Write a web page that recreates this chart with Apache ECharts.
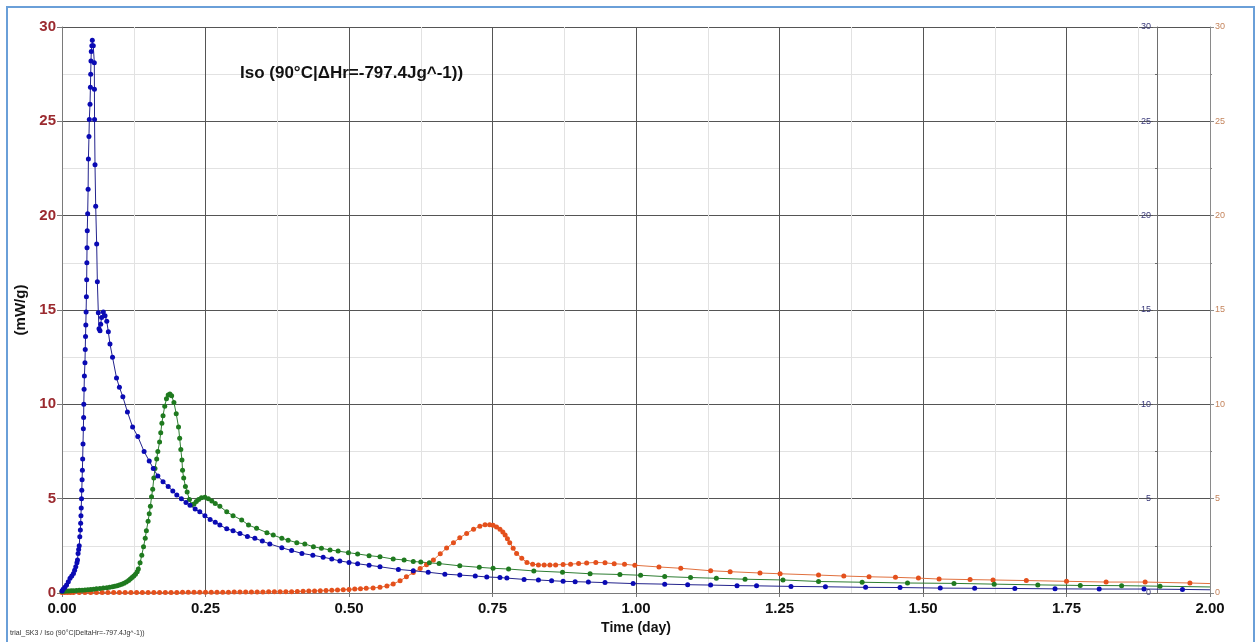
<!DOCTYPE html>
<html>
<head>
<meta charset="utf-8">
<script src="https://cdn.jsdelivr.net/npm/echarts@6/dist/echarts.min.js"></script>
<style>
  html, body { margin: 0; padding: 0; background: #ffffff; }
  #chart { width: 1257px; height: 642px; }
</style>
</head>
<body>
<div id="chart"></div>
<script>
// Heat flow (mW/g) versus time (day) for three isothermal runs, each as [day, mW/g]
const blueRun = [
  [0,0.1],[0.002,0.2],[0.005,0.3],[0.008,0.42],[0.011,0.6],[0.014,0.78],[0.017,0.9],[0.020,1.04],
  [0.022,1.2],[0.024,1.39],[0.026,1.6],[0.027,1.75],[0.028,2.1],[0.029,2.3],[0.030,2.5],[0.031,2.98],
  [0.032,3.34],[0.0325,3.7],[0.033,4.1],[0.0335,4.5],[0.034,5.0],[0.0345,5.45],[0.035,6.0],[0.0355,6.5],
  [0.036,7.1],[0.0366,7.9],[0.0372,8.7],[0.0377,9.3],[0.038,10.0],[0.0385,10.8],[0.039,11.5],[0.040,12.2],
  [0.0405,12.9],[0.041,13.6],[0.0415,14.2],[0.042,14.9],[0.0425,15.7],[0.043,16.6],[0.0433,17.5],[0.0436,18.3],
  [0.044,19.2],[0.0447,20.1],[0.0455,21.4],[0.046,23.0],[0.047,24.2],[0.0476,25.1],[0.0488,25.9],[0.0495,26.8],
  [0.050,27.5],[0.0505,28.2],[0.051,28.7],[0.052,29.0],[0.0528,29.3],[0.0545,29.0],[0.0563,28.1],[0.0565,26.7],
  [0.0567,25.1],[0.0575,22.7],[0.0587,20.5],[0.0604,18.5],[0.0616,16.5],[0.0633,14.85],[0.0645,14.0],[0.0662,13.9],
  [0.0674,14.25],[0.069,14.6],[0.072,14.9],[0.075,14.7],[0.078,14.4],[0.0807,13.85],[0.0836,13.2],[0.088,12.5],
  [0.095,11.4],[0.100,10.9],[0.106,10.4],[0.114,9.6],[0.123,8.8],[0.132,8.3],[0.143,7.5],[0.152,7.0],
  [0.159,6.6],[0.167,6.2],[0.176,5.9],[0.185,5.65],[0.193,5.4],[0.200,5.2],[0.208,5.0],[0.216,4.8],
  [0.223,4.65],[0.232,4.45],[0.240,4.3],[0.249,4.1],[0.258,3.9],[0.267,3.75],[0.275,3.6],[0.287,3.4],
  [0.298,3.3],[0.31,3.15],[0.323,3.0],[0.336,2.9],[0.349,2.75],[0.362,2.6],[0.383,2.4],[0.40,2.25],
  [0.418,2.1],[0.437,2.0],[0.455,1.9],[0.47,1.8],[0.484,1.7],[0.50,1.62],[0.515,1.55],[0.535,1.47],
  [0.554,1.39],[0.586,1.25],[0.612,1.18],[0.638,1.1],[0.667,1.0],[0.693,0.95],[0.72,0.9],[0.74,0.85],
  [0.763,0.82],[0.775,0.79],[0.805,0.72],[0.83,0.69],[0.853,0.65],[0.873,0.62],[0.894,0.6],[0.917,0.58],
  [0.946,0.55],[0.995,0.5],[1.05,0.47],[1.09,0.44],[1.13,0.42],[1.176,0.39],[1.21,0.38],[1.27,0.35],
  [1.33,0.33],[1.40,0.3],[1.46,0.29],[1.53,0.26],[1.59,0.25],[1.66,0.24],[1.73,0.22],[1.807,0.21],
  [1.885,0.21],[1.952,0.19],[2.0,0.17]
];

const greenRun = [
  [0,0.08],[0.004,0.09],[0.008,0.1],[0.012,0.11],[0.016,0.12],[0.02,0.12],[0.025,0.13],[0.03,0.14],
  [0.035,0.15],[0.04,0.16],[0.045,0.17],[0.05,0.19],[0.055,0.2],[0.06,0.22],[0.066,0.24],[0.072,0.26],
  [0.078,0.28],[0.083,0.3],[0.088,0.33],[0.092,0.36],[0.096,0.39],[0.1,0.43],[0.104,0.47],[0.108,0.52],
  [0.112,0.58],[0.116,0.66],[0.119,0.74],[0.122,0.82],[0.125,0.9],[0.128,1.0],[0.131,1.13],[0.133,1.27],
  [0.136,1.6],[0.139,2.0],[0.142,2.45],[0.145,2.9],[0.147,3.3],[0.150,3.8],[0.152,4.2],[0.154,4.6],
  [0.156,5.1],[0.158,5.5],[0.160,6.1],[0.162,6.6],[0.165,7.1],[0.167,7.5],[0.170,8.0],[0.172,8.5],
  [0.174,9.0],[0.176,9.4],[0.179,9.9],[0.182,10.3],[0.185,10.5],[0.188,10.55],[0.191,10.45],[0.195,10.1],
  [0.199,9.5],[0.203,8.8],[0.205,8.2],[0.207,7.6],[0.209,7.05],[0.210,6.5],[0.212,6.1],[0.215,5.65],
  [0.218,5.35],[0.222,4.95],[0.226,4.68],[0.230,4.72],[0.234,4.85],[0.238,4.95],[0.243,5.05],[0.249,5.07],
  [0.255,5.0],[0.261,4.88],[0.267,4.75],[0.275,4.6],[0.287,4.3],[0.298,4.1],[0.313,3.87],[0.325,3.6],
  [0.339,3.43],[0.357,3.2],[0.368,3.07],[0.383,2.9],[0.394,2.8],[0.409,2.67],[0.423,2.6],[0.438,2.45],
  [0.452,2.37],[0.467,2.28],[0.481,2.22],[0.499,2.14],[0.515,2.07],[0.535,1.98],[0.554,1.92],[0.577,1.8],
  [0.596,1.75],[0.612,1.67],[0.625,1.64],[0.64,1.6],[0.657,1.56],[0.693,1.44],[0.727,1.36],[0.751,1.31],
  [0.778,1.27],[0.822,1.17],[0.872,1.1],[0.92,1.02],[0.972,0.98],[1.008,0.94],[1.05,0.87],[1.095,0.82],
  [1.14,0.78],[1.19,0.73],[1.256,0.69],[1.318,0.61],[1.394,0.57],[1.473,0.53],[1.554,0.51],[1.624,0.47],
  [1.70,0.43],[1.774,0.4],[1.846,0.39],[1.913,0.36],[2.0,0.32]
];

const orangeRun = [
  [0,0.02],[0.005,0.02],[0.01,0.02],[0.015,0.03],[0.02,0.03],[0.03,0.03],[0.04,0.03],[0.05,0.03],
  [0.06,0.03],[0.07,0.03],[0.08,0.03],[0.09,0.03],[0.10,0.03],[0.11,0.03],[0.12,0.03],[0.13,0.03],
  [0.14,0.03],[0.15,0.03],[0.16,0.03],[0.17,0.03],[0.18,0.03],[0.19,0.03],[0.20,0.03],[0.21,0.04],
  [0.22,0.04],[0.23,0.04],[0.24,0.04],[0.25,0.04],[0.26,0.04],[0.27,0.04],[0.28,0.04],[0.29,0.04],
  [0.30,0.05],[0.31,0.05],[0.32,0.05],[0.33,0.05],[0.34,0.05],[0.35,0.05],[0.36,0.06],[0.37,0.06],
  [0.38,0.06],[0.39,0.07],[0.40,0.07],[0.41,0.08],[0.42,0.09],[0.43,0.10],[0.44,0.11],[0.45,0.12],
  [0.46,0.13],[0.47,0.14],[0.48,0.16],[0.49,0.17],[0.50,0.19],[0.51,0.21],[0.52,0.23],[0.53,0.25],
  [0.542,0.27],[0.554,0.30],[0.566,0.37],[0.577,0.48],[0.589,0.65],[0.600,0.86],[0.612,1.08],[0.624,1.30],
  [0.635,1.50],[0.647,1.75],[0.659,2.08],[0.670,2.38],[0.682,2.67],[0.693,2.93],[0.705,3.16],[0.717,3.38],
  [0.728,3.54],[0.737,3.62],[0.745,3.62],[0.751,3.59],[0.757,3.5],[0.763,3.38],[0.768,3.23],[0.772,3.07],
  [0.776,2.88],[0.780,2.67],[0.786,2.37],[0.792,2.1],[0.801,1.84],[0.81,1.62],[0.82,1.53],[0.83,1.49],
  [0.84,1.48],[0.85,1.48],[0.86,1.49],[0.873,1.51],[0.886,1.53],[0.90,1.56],[0.914,1.59],[0.93,1.62],
  [0.946,1.60],[0.962,1.55],[0.98,1.52],[0.998,1.47],[1.04,1.38],[1.078,1.31],[1.13,1.18],[1.164,1.13],
  [1.216,1.06],[1.251,1.02],[1.318,0.95],[1.362,0.90],[1.406,0.86],[1.452,0.83],[1.492,0.79],[1.528,0.74],
  [1.582,0.71],[1.622,0.69],[1.68,0.66],[1.75,0.62],[1.819,0.58],[1.887,0.58],[1.965,0.53],[2.0,0.5]
];

const plotTitle = 'Iso (90°C|ΔHr=-797.4Jg^-1))';
const footNote = 'trial_SK3 / Iso (90°C|DeltaHr=-797.4Jg^-1))';
const xName = 'Time (day)';
const yName = '(mW/g)';

const FONT = '"Liberation Sans", Arial, sans-serif';

// the trace runs on to the right edge; its closing sample carries no marker
function withOpenEnd(points) {
  return points.map((p, i) => i === points.length - 1 && p[0] >= 2
    ? { value: p, symbolSize: 0 } : p);
}

function runSeries(name, points, markerColor, lineColor) {
  return {
    name: name,
    type: 'line',
    xAxisIndex: 0,
    yAxisIndex: 0,
    data: withOpenEnd(points),
    symbol: 'circle',
    symbolSize: 5,
    showSymbol: true,
    itemStyle: { color: markerColor },
    lineStyle: { color: lineColor, width: 1 },
    z: 3
  };
}

const chart = echarts.init(document.getElementById('chart'), null, { renderer: 'canvas' });

chart.setOption({
  animation: false,
  backgroundColor: '#ffffff',
  grid: { left: 62, right: 47, top: 27, bottom: 49, containLabel: false },
  graphic: [
    {
      type: 'rect',
      shape: { x: 7, y: 7, width: 1247, height: 660 },
      style: { fill: null, stroke: '#6a9fd8', lineWidth: 2 },
      silent: true,
      z: 0
    },
    {
      type: 'text',
      left: 240,
      top: 65,
      style: { text: plotTitle, font: 'bold 17px ' + FONT, fill: '#111111' },
      z: 10
    },
    {
      type: 'text',
      left: 10,
      top: 630,
      style: { text: footNote, font: '7px ' + FONT, fill: '#333333' },
      z: 10
    }
  ],
  xAxis: {
    type: 'value',
    min: 0,
    max: 2,
    interval: 0.25,
    name: xName,
    nameLocation: 'middle',
    nameGap: 28,
    nameTextStyle: { fontFamily: FONT, fontWeight: 'bold', fontSize: 14, color: '#111111' },
    axisLine: { show: true, onZero: false, lineStyle: { color: '#7a7a7a', width: 1 } },
    axisTick: { show: true, length: 4, lineStyle: { color: '#7a7a7a' } },
    axisLabel: {
      fontFamily: FONT, fontWeight: 'bold', fontSize: 15, color: '#111111', margin: 8,
      formatter: v => v.toFixed(2)
    },
    splitLine: { show: true, lineStyle: { color: '#555555', width: 1 } },
    minorTick: { show: false, splitNumber: 2 },
    minorSplitLine: { show: true, lineStyle: { color: '#e2e2e2', width: 1 } }
  },
  yAxis: [
    {
      type: 'value',
      position: 'left',
      min: 0,
      max: 30,
      interval: 5,
      name: yName,
      nameLocation: 'middle',
      nameGap: 29,
      nameRotate: 90,
      nameTextStyle: { fontFamily: FONT, fontWeight: 'bold', fontSize: 15, color: '#111111' },
      axisLine: { show: true, lineStyle: { color: '#7a7a7a', width: 1 } },
      axisTick: { show: true, length: 5, lineStyle: { color: '#7a7a7a' } },
      axisLabel: { fontFamily: FONT, fontWeight: 'bold', fontSize: 15, color: '#9b2a2f', margin: 6 },
      splitLine: { show: true, lineStyle: { color: '#555555', width: 1 } },
      minorTick: { show: false, splitNumber: 2 },
      minorSplitLine: { show: true, lineStyle: { color: '#e2e2e2', width: 1 } }
    },
    {
      type: 'value',
      position: 'right',
      offset: -53,
      min: 0,
      max: 30,
      interval: 5,
      axisLine: { show: true, lineStyle: { color: '#6e6e6e', width: 1 } },
      axisTick: { show: true, inside: true, length: 4, lineStyle: { color: '#6e6e6e' } },
      minorTick: { show: true, splitNumber: 2, length: 2, lineStyle: { color: '#6e6e6e' } },
      axisLabel: { inside: true, fontFamily: FONT, fontSize: 9, color: '#3a3a7a', margin: 6 },
      splitLine: { show: false }
    },
    {
      type: 'value',
      position: 'right',
      offset: 0,
      min: 0,
      max: 30,
      interval: 5,
      axisLine: { show: true, lineStyle: { color: '#8a8a8a', width: 1 } },
      axisTick: { show: true, length: 4, lineStyle: { color: '#8a8a8a' } },
      minorTick: { show: true, splitNumber: 2, length: 2, lineStyle: { color: '#8a8a8a' } },
      axisLabel: { fontFamily: FONT, fontSize: 9, color: '#c4845c', margin: 5 },
      splitLine: { show: false }
    }
  ],
  series: [
    runSeries('orange', orangeRun, '#e4501c', '#e0703e'),
    runSeries('green', greenRun, '#1f7a1f', '#2e7d32'),
    runSeries('blue', blueRun, '#0a0ab4', '#23238c')
  ]
});
</script>
</body>
</html>
